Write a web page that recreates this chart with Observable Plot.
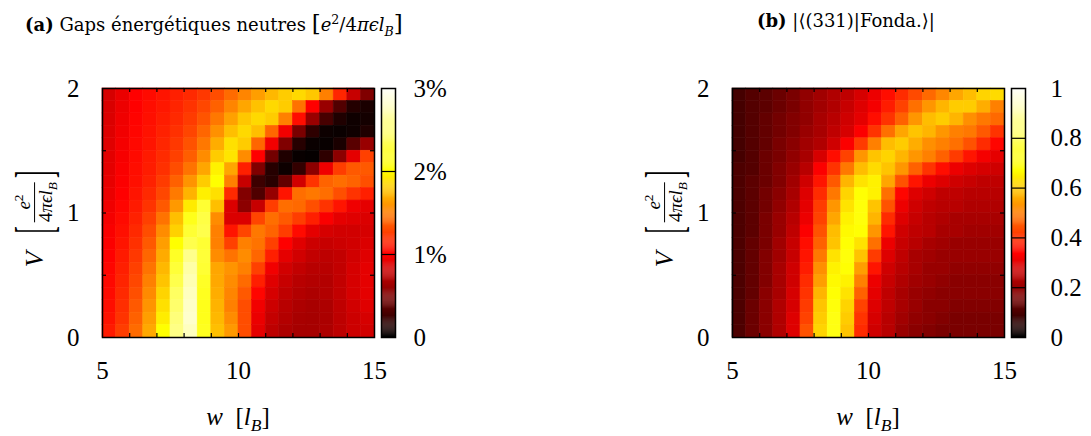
<!DOCTYPE html>
<html><head><meta charset="utf-8">
<script src="https://cdn.jsdelivr.net/npm/d3@7"></script>
<script src="https://cdn.jsdelivr.net/npm/@observablehq/plot@0.6"></script>
<style>
body{margin:0;background:#fff;}
#root{position:relative;width:1091px;height:436px;overflow:hidden;font-family:"Liberation Serif","DejaVu Serif",serif;color:#000;background:#fff;}
.abs{position:absolute;}
.title{font-family:"DejaVu Serif",serif;font-size:18px;white-space:nowrap;line-height:1;}
.title .br{font-size:23px;font-weight:200;}
.xlab{font-size:25px;white-space:nowrap;line-height:1;transform:translate(-50%,-50%);}
.ylab{display:flex;align-items:center;white-space:nowrap;transform:translate(-50%,-50%) rotate(-90deg);}
.ylab .V{font-size:26px;font-style:italic;margin-right:18px;}
.ylab .br{font-size:22px;display:inline-block;transform:scaleY(2.4);}
.frac{display:inline-flex;flex-direction:column;align-items:center;font-size:19px;line-height:1.05;margin:0 4px;}
.frac .den{border-top:1px solid #000;padding-top:1px;}
sub,sup{font-size:70%;line-height:0;}
</style></head><body><div id="root"></div>
<script>
// ---- data ----
const wCenters = [5.25,5.75,6.25,6.75,7.25,7.75,8.25,8.75,9.25,9.75,10.25,10.75,11.25,11.75,12.25,12.75,13.25,13.75,14.25,14.75];
const vCenters = [1.95,1.85,1.75,1.65,1.55,1.45,1.35,1.25,1.15,1.05,0.95,0.85,0.75,0.65,0.55,0.45,0.35,0.25,0.15,0.05];
const cellW = 0.5, cellV = 0.1;
// (a) neutral gaps, in % of e^2/4πεl_B ; rows top (V=1.95) to bottom (V=0.05)
const gapsA = [
 [0.84,0.92,1.00,1.04,1.08,1.12,1.16,1.22,1.30,1.42,1.52,1.62,1.72,1.80,1.85,1.78,1.50,1.15,0.78,0.50],
 [0.85,0.93,1.00,1.05,1.09,1.14,1.20,1.28,1.38,1.52,1.65,1.76,1.85,1.80,1.45,1.00,0.60,0.32,0.14,0.10],
 [0.86,0.94,1.01,1.06,1.11,1.16,1.23,1.33,1.47,1.63,1.78,1.85,1.80,1.50,1.05,0.60,0.28,0.12,0.06,0.08],
 [0.87,0.95,1.02,1.07,1.13,1.19,1.27,1.40,1.57,1.75,1.85,1.75,1.40,0.95,0.48,0.18,0.05,0.04,0.06,0.12],
 [0.88,0.96,1.03,1.08,1.15,1.22,1.32,1.47,1.68,1.88,1.80,1.40,0.95,0.50,0.15,0.04,0.03,0.10,0.35,0.60],
 [0.89,0.97,1.04,1.10,1.17,1.25,1.37,1.55,1.80,1.90,1.55,1.00,0.45,0.12,0.03,0.02,0.18,0.55,0.90,1.25],
 [0.90,0.98,1.05,1.11,1.19,1.30,1.45,1.65,1.95,1.65,1.12,0.50,0.15,0.05,0.20,0.55,0.94,1.24,1.35,1.35],
 [0.91,0.99,1.06,1.13,1.23,1.38,1.58,1.80,2.00,1.50,0.78,0.24,0.16,0.39,0.82,1.20,1.39,1.43,1.39,1.31],
 [0.92,1.00,1.08,1.16,1.28,1.48,1.70,1.94,1.88,1.16,0.51,0.31,0.59,1.08,1.43,1.47,1.43,1.31,1.20,1.12],
 [0.94,1.02,1.10,1.20,1.35,1.60,1.92,2.20,1.75,0.86,0.55,0.78,1.24,1.43,1.41,1.31,1.20,1.08,0.94,0.90],
 [0.96,1.04,1.13,1.25,1.45,1.75,2.10,2.27,1.55,0.86,0.86,1.27,1.43,1.35,1.24,1.12,0.98,0.90,0.88,0.86],
 [0.98,1.06,1.16,1.30,1.55,1.82,2.20,2.30,1.50,1.08,1.27,1.47,1.39,1.24,1.04,0.90,0.84,0.82,0.82,0.84],
 [0.99,1.08,1.19,1.35,1.62,2.00,2.30,2.20,1.50,1.25,1.50,1.45,1.25,1.00,0.88,0.80,0.78,0.80,0.82,0.86],
 [1.00,1.10,1.22,1.40,1.67,2.15,2.55,2.22,1.55,1.45,1.55,1.40,1.12,0.90,0.82,0.76,0.74,0.76,0.82,0.88],
 [1.02,1.12,1.25,1.45,1.72,2.22,2.65,2.20,1.65,1.58,1.50,1.25,0.95,0.82,0.76,0.72,0.72,0.76,0.84,0.90],
 [1.03,1.14,1.28,1.50,1.77,2.30,2.70,2.15,1.66,1.55,1.42,1.12,0.88,0.78,0.72,0.70,0.70,0.76,0.84,0.90],
 [1.04,1.16,1.31,1.54,1.83,2.38,2.75,2.12,1.68,1.52,1.35,1.02,0.84,0.75,0.70,0.68,0.70,0.76,0.84,0.90],
 [1.05,1.18,1.35,1.58,1.88,2.42,2.78,2.10,1.70,1.50,1.30,0.95,0.80,0.72,0.68,0.66,0.68,0.75,0.82,0.88],
 [1.07,1.20,1.38,1.62,1.93,2.48,2.80,2.10,1.72,1.55,1.30,0.92,0.77,0.70,0.66,0.65,0.67,0.74,0.80,0.84],
 [1.10,1.24,1.42,1.66,2.00,2.52,2.75,2.12,1.75,1.60,1.30,0.90,0.74,0.68,0.65,0.65,0.68,0.74,0.80,0.82]
];
// (b) |<(331)|Fonda.>| ; rows top (V=1.95) to bottom (V=0.05)
const overlapB = [
 [0.09,0.11,0.12,0.14,0.16,0.19,0.21,0.23,0.25,0.28,0.31,0.35,0.39,0.43,0.47,0.51,0.55,0.58,0.61,0.62],
 [0.09,0.11,0.12,0.14,0.16,0.19,0.21,0.23,0.26,0.29,0.32,0.37,0.42,0.48,0.53,0.57,0.60,0.60,0.56,0.50],
 [0.09,0.11,0.13,0.15,0.17,0.19,0.22,0.24,0.27,0.30,0.35,0.40,0.46,0.53,0.58,0.60,0.57,0.52,0.49,0.47],
 [0.09,0.11,0.13,0.15,0.17,0.20,0.22,0.25,0.28,0.33,0.40,0.48,0.55,0.59,0.57,0.53,0.50,0.49,0.45,0.40],
 [0.09,0.11,0.13,0.16,0.18,0.21,0.23,0.27,0.33,0.41,0.50,0.58,0.60,0.56,0.52,0.50,0.48,0.44,0.39,0.34],
 [0.09,0.11,0.14,0.16,0.19,0.22,0.28,0.35,0.42,0.53,0.59,0.61,0.57,0.53,0.50,0.46,0.41,0.36,0.32,0.30],
 [0.10,0.11,0.14,0.17,0.20,0.24,0.33,0.40,0.49,0.58,0.62,0.59,0.53,0.46,0.40,0.35,0.31,0.29,0.28,0.27],
 [0.10,0.12,0.14,0.17,0.21,0.27,0.36,0.45,0.57,0.63,0.65,0.55,0.44,0.36,0.31,0.29,0.27,0.26,0.25,0.25],
 [0.10,0.12,0.15,0.18,0.22,0.29,0.39,0.49,0.61,0.67,0.65,0.48,0.34,0.29,0.27,0.25,0.25,0.24,0.24,0.24],
 [0.10,0.12,0.15,0.19,0.23,0.30,0.41,0.53,0.63,0.68,0.59,0.44,0.31,0.27,0.25,0.24,0.24,0.23,0.23,0.23],
 [0.10,0.12,0.16,0.20,0.24,0.31,0.42,0.55,0.65,0.68,0.57,0.39,0.29,0.26,0.24,0.23,0.22,0.22,0.22,0.22],
 [0.10,0.12,0.16,0.20,0.25,0.33,0.44,0.58,0.66,0.67,0.53,0.36,0.27,0.25,0.24,0.22,0.22,0.21,0.21,0.21],
 [0.10,0.13,0.16,0.21,0.26,0.35,0.46,0.59,0.67,0.63,0.48,0.31,0.26,0.24,0.22,0.21,0.20,0.20,0.20,0.20],
 [0.10,0.13,0.17,0.21,0.26,0.36,0.49,0.63,0.68,0.59,0.41,0.29,0.25,0.22,0.21,0.20,0.20,0.20,0.20,0.20],
 [0.10,0.13,0.17,0.22,0.27,0.37,0.52,0.65,0.67,0.54,0.36,0.27,0.24,0.22,0.20,0.20,0.19,0.19,0.19,0.19],
 [0.10,0.13,0.17,0.22,0.27,0.39,0.54,0.66,0.65,0.50,0.31,0.26,0.23,0.21,0.20,0.19,0.18,0.18,0.18,0.18],
 [0.10,0.13,0.18,0.22,0.28,0.40,0.57,0.67,0.63,0.46,0.30,0.25,0.22,0.20,0.19,0.18,0.18,0.18,0.18,0.18],
 [0.10,0.14,0.18,0.23,0.28,0.41,0.59,0.68,0.61,0.42,0.29,0.25,0.22,0.20,0.18,0.18,0.17,0.17,0.17,0.17],
 [0.10,0.14,0.18,0.23,0.29,0.42,0.60,0.69,0.60,0.40,0.28,0.24,0.21,0.19,0.18,0.17,0.16,0.16,0.16,0.16],
 [0.10,0.14,0.18,0.23,0.29,0.44,0.61,0.69,0.59,0.39,0.27,0.24,0.20,0.18,0.17,0.16,0.16,0.16,0.16,0.16]
];
const xTickLabels = [5, 10, 15];
const yTickLabels = [0, 1, 2];
const xMinorTicks = [6, 7, 8, 9, 10, 11, 12, 13, 14];
const yMinorTicks = [0.5, 1, 1.5];
const cbTicksA = [0, 1, 2, 3];
const cbLabelsA = ["0", "1%", "2%", "3%"];
const cbTicksB = [0, 0.2, 0.4, 0.6, 0.8, 1];
const cbLabelsB = ["0", "0.2", "0.4", "0.6", "0.8", "1"];

// ---- helpers ----
const clamp01 = x => Math.max(0, Math.min(1, x));
const hot = t => `rgb(${Math.round(255*clamp01(3*t))},${Math.round(255*clamp01(3*t-1))},${Math.round(255*clamp01(3*t-2))})`;
const root = document.getElementById("root");
const FONT = "'Liberation Serif','DejaVu Serif',serif";
const TOP = 88, BOTTOM = 99, H = 436;
const PH = H - TOP - BOTTOM; // plot height
const PW = 272;

function place(el, left, top) {
  const d = document.createElement("div");
  d.className = "abs"; d.style.left = left + "px"; d.style.top = top + "px";
  d.appendChild(el); root.appendChild(d); return d;
}
function html(left, top, cls, inner) {
  const d = document.createElement("div");
  d.className = "abs " + cls; d.style.left = left + "px"; d.style.top = top + "px";
  d.innerHTML = inner; root.appendChild(d); return d;
}

function heatmap(rows, domain) {
  const data = [];
  rows.forEach((row, i) => row.forEach((v, j) => data.push({w: wCenters[j], V: vCenters[i], v})));
  return Plot.plot({
    width: 102 + PW + 2, height: H,
    marginLeft: 102, marginRight: 2, marginTop: TOP, marginBottom: BOTTOM,
    style: {fontFamily: FONT, fontSize: "25px", color: "#000", background: "transparent", overflow: "visible"},
    x: {domain: [5, 15], ticks: xTickLabels, tickFormat: d => String(d), tickSize: 0, tickPadding: 24, label: null},
    y: {domain: [0, 2], ticks: yTickLabels, tickFormat: d => String(d), tickSize: 0, tickPadding: 23, label: null},
    color: {type: "linear", domain, interpolate: hot, clamp: true},
    marks: [
      Plot.rect(data, {x1: d => d.w - cellW/2, x2: d => d.w + cellW/2, y1: d => d.V - cellV/2, y2: d => d.V + cellV/2,
                       fill: "v", stroke: "v", strokeWidth: 0.6}),
      Plot.tickX(xMinorTicks, {x: d => d, insetBottom: PH - 4, stroke: "#000", strokeWidth: 1.2}),
      Plot.tickX(xMinorTicks, {x: d => d, insetTop: PH - 4, stroke: "#000", strokeWidth: 1.2}),
      Plot.tickY(yMinorTicks, {y: d => d, insetRight: PW - 4, stroke: "#000", strokeWidth: 1.2}),
      Plot.tickY(yMinorTicks, {y: d => d, insetLeft: PW - 4, stroke: "#000", strokeWidth: 1.2}),
      Plot.frame({stroke: "#000", strokeWidth: 1.5})
    ]
  });
}

function colorbar(domain, ticks, labels, marginRight, pad) {
  const n = 240;
  const steps = d3.range(n).map(i => domain[0] + (domain[1] - domain[0]) * i / n);
  const dstep = (domain[1] - domain[0]) / n;
  const lab = new Map(ticks.map((t, i) => [t, labels[i]]));
  return Plot.plot({
    width: 3 + 14 + marginRight, height: H,
    marginLeft: 3, marginRight, marginTop: TOP, marginBottom: BOTTOM,
    style: {fontFamily: FONT, fontSize: "25px", color: "#000", background: "transparent", overflow: "visible"},
    x: {domain: [0, 1], axis: null},
    y: {domain, axis: "right", ticks, tickFormat: d => lab.get(d), tickSize: 0, tickPadding: pad, label: null},
    color: {type: "linear", domain, interpolate: hot, clamp: true},
    marks: [
      Plot.rect(steps, {x1: () => 0, x2: () => 1, y1: d => d, y2: d => d + dstep * 1.2, fill: d => d}),
      Plot.ruleY(ticks.slice(1, -1), {stroke: "#000", strokeWidth: 1.2}),
      Plot.frame({stroke: "#000", strokeWidth: 1.5})
    ]
  });
}

// ---- panel (a) ----
place(heatmap(gapsA, [0, 3]), 0, 0);
place(colorbar([0, 3], cbTicksA, cbLabelsA, 70, 18), 378, 0);
// ---- panel (b) ----
place(heatmap(overlapB, [0, 1]), 630, 0);
place(colorbar([0, 1], cbTicksB, cbLabelsB, 66, 25), 1008, 0);

// titles
html(25, 12, "title", `<b>(a)</b> Gaps énergétiques neutres <span class="br">[</span><i>e</i><sup>2</sup>/4<i>πϵl</i><sub><i>B</i></sub><span class="br">]</span>`);
html(757, 12, "title", `<b>(b)</b> |⟨(331)|Fonda.⟩|`);

// axis labels
const xl = `<i>w</i>&nbsp; [<i>l</i><sub><i>B</i></sub>]`;
html(238, 416, "xlab", xl);
html(868, 416, "xlab", xl);
const yl = `<span class="V">V</span><span class="br">[</span><span class="frac"><span class="num"><i>e</i><sup>2</sup></span><span class="den">4<i>πϵl</i><sub><i>B</i></sub></span></span><span class="br">]</span>`;
html(35, 219, "ylab", yl);
html(665, 219, "ylab", yl);
</script></body></html>
